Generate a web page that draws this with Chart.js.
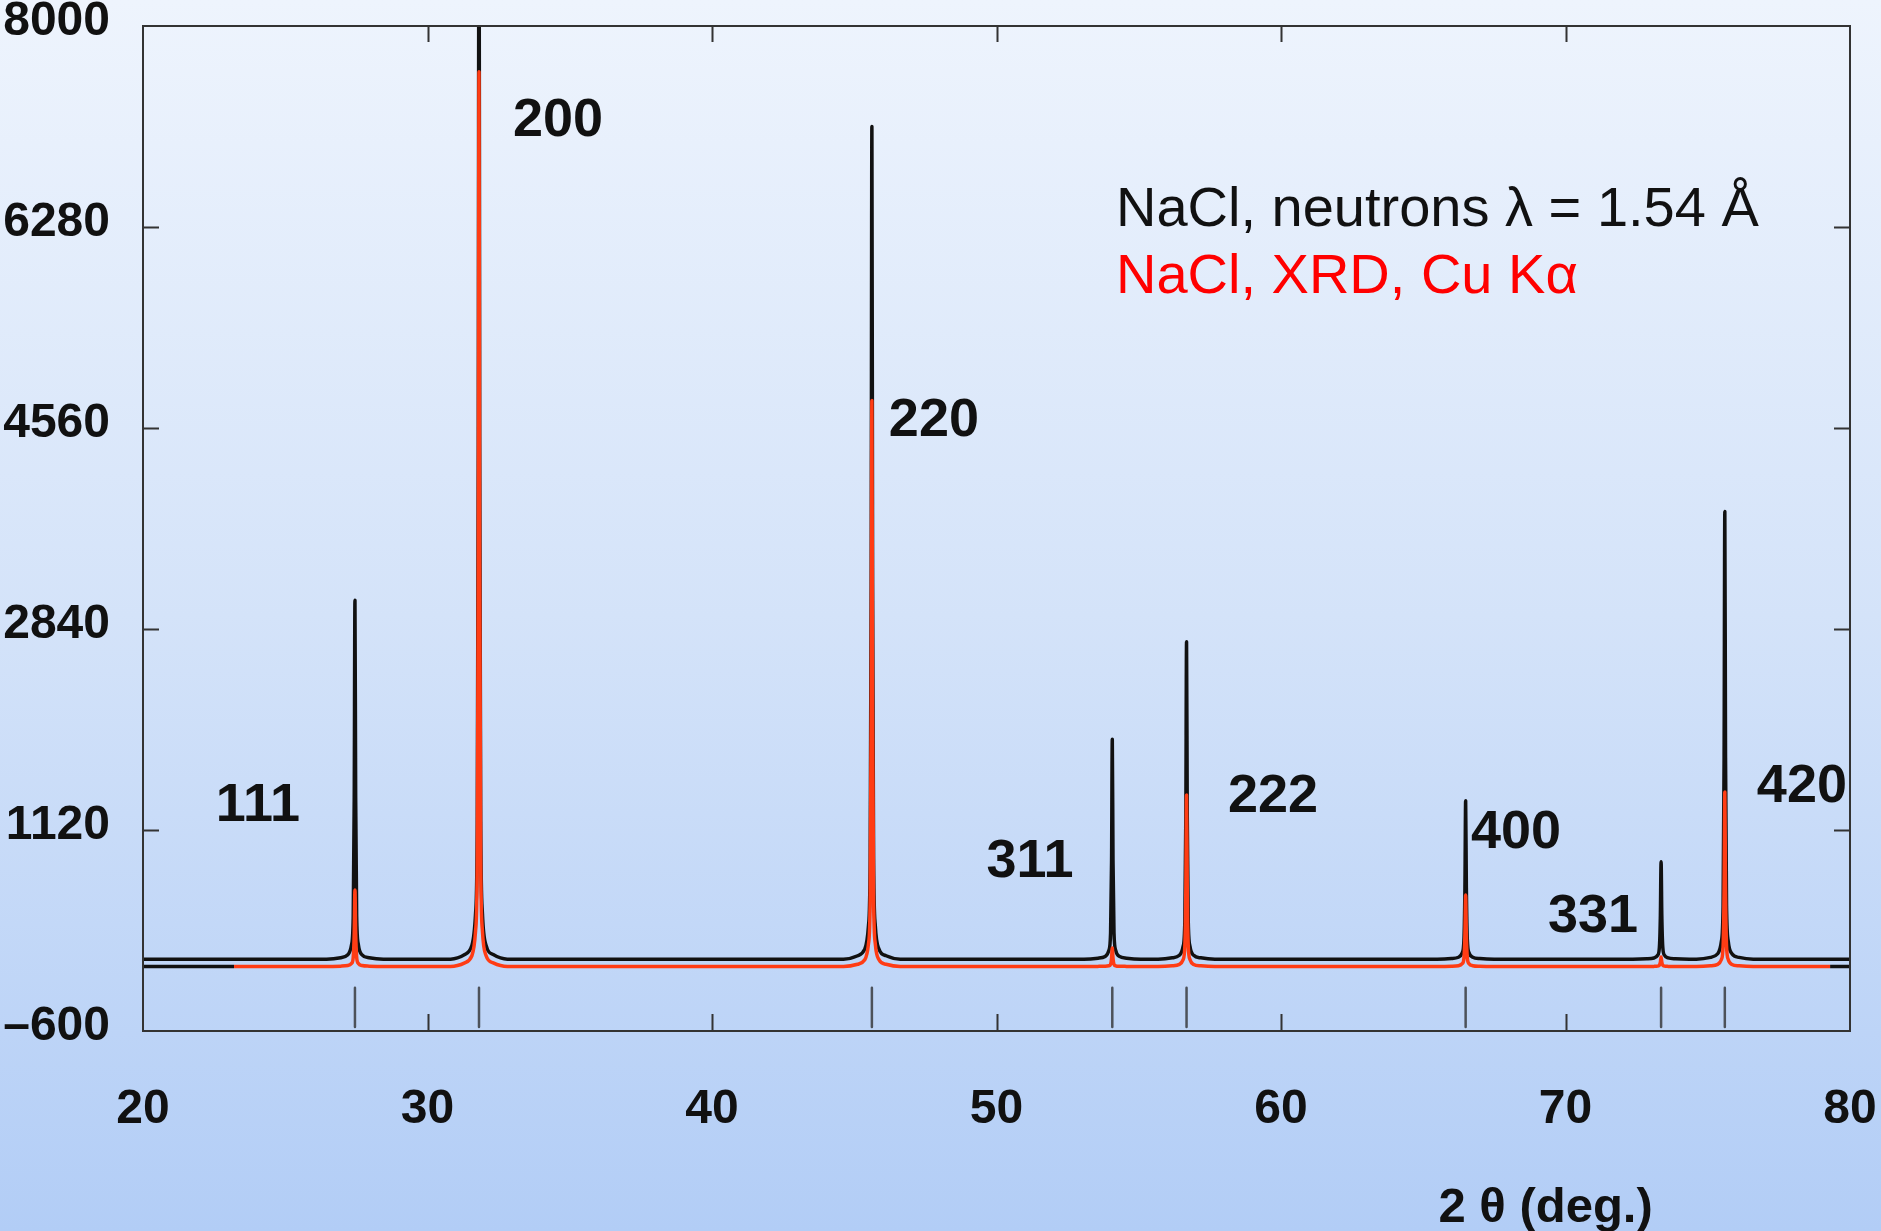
<!DOCTYPE html>
<html>
<head>
<meta charset="utf-8">
<title>NaCl diffraction</title>
<script src="https://cdn.jsdelivr.net/npm/chart.js@4.4.1/dist/chart.umd.min.js"></script>
<style>
  html, body { margin: 0; padding: 0; overflow: hidden; }
  body {
    width: 1881px;
    height: 1231px;
    background: linear-gradient(180deg, #eef4fd 0%, #d4e3f9 50%, #b2cdf6 100%);
  }
  canvas { display: block; }
</style>
</head>
<body>
<canvas id="chart" width="1881" height="1231"></canvas>
<script>

// Axis ticks
const xTickValues = [20, 30, 40, 50, 60, 70, 80];
const yTickValues = [-600, 1120, 2840, 4560, 6280, 8000];

// Reflections (hkl) and their 2-theta positions
const peakLabels = ["111", "200", "220", "311", "222", "400", "331", "420"];
const peakTheta = [27.45, 31.81, 45.62, 54.07, 56.68, 66.49, 73.36, 75.60];

// where the hkl labels sit (2-theta, intensity)
const labelTheta = [24.04, 34.59, 47.80, 51.18, 59.72, 68.26, 70.97, 78.31];
const labelCounts = [1360, 7221, 4654, 881, 1437, 1129, 410, 1523];

// 2-theta sampling through each peak
const profileTheta = [
  26.45, 26.95, 27.20, 27.33, 27.39, 27.425, 27.45, 27.475, 27.51, 27.57, 27.70, 27.95, 28.45,
  30.81, 31.31, 31.56, 31.69, 31.75, 31.785, 31.81, 31.835, 31.87, 31.93, 32.06, 32.31, 32.81,
  44.62, 45.12, 45.37, 45.50, 45.56, 45.595, 45.62, 45.645, 45.68, 45.74, 45.87, 46.12, 46.62,
  53.07, 53.57, 53.82, 53.95, 54.01, 54.045, 54.07, 54.095, 54.13, 54.19, 54.32, 54.57, 55.07,
  55.68, 56.18, 56.43, 56.56, 56.62, 56.655, 56.68, 56.705, 56.74, 56.80, 56.93, 57.18, 57.68,
  65.49, 65.99, 66.24, 66.37, 66.43, 66.465, 66.49, 66.515, 66.55, 66.61, 66.74, 66.99, 67.49,
  72.36, 72.86, 73.11, 73.24, 73.30, 73.335, 73.36, 73.385, 73.42, 73.48, 73.61, 73.86, 74.36,
  74.60, 75.10, 75.35, 75.48, 75.54, 75.575, 75.60, 75.625, 75.66, 75.72, 75.85, 76.10, 76.60
];

// Neutron pattern (black)
const neutronTheta = [20, ...profileTheta, 80];
const neutronCounts = [
  15,
  15, 27, 52, 138, 383, 1397, 3085, 1397, 383, 138, 52, 27, 15,
  15, 54, 132, 406, 1189, 4418, 9800, 4418, 1189, 406, 132, 54, 15,
  15, 44, 101, 300, 870, 3221, 7140, 3221, 870, 300, 101, 44, 15,
  15, 23, 38, 90, 241, 862, 1897, 862, 241, 90, 38, 23, 15,
  15, 26, 48, 124, 341, 1237, 2730, 1237, 341, 124, 48, 26, 15,
  15, 20, 31, 69, 178, 625, 1371, 625, 178, 69, 31, 20, 15,
  15, 18, 25, 48, 115, 390, 849, 390, 115, 48, 25, 18, 15,
  15, 30, 61, 168, 475, 1739, 3846, 1739, 475, 168, 61, 30, 15,
  15
];

// X-ray pattern (red)
const xrayTheta = [23.2, ...profileTheta, 79.3];
const xrayCounts = [
  -48,
  -48, -45, -40, -22, 31, 247, 607, 247, 31, -22, -40, -45, -48,
  -48, -17, 44, 258, 871, 3398, 7609, 3398, 871, 258, 44, -17, -48,
  -48, -29, 10, 146, 533, 2131, 4795, 2131, 533, 146, 10, -29, -48,
  -48, -47, -46, -42, -29, 24, 111, 24, -29, -42, -46, -47, -48,
  -48, -42, -30, 11, 128, 613, 1420, 613, 128, 11, -30, -42, -48,
  -48, -46, -41, -24, 25, 227, 564, 227, 25, -24, -41, -46, -48,
  -48, -48, -47, -45, -38, -11, 34, -11, -38, -45, -47, -48, -48,
  -48, -42, -30, 12, 131, 624, 1446, 624, 131, 12, -30, -42, -48,
  -48
];

// black stubs of the lower trace at both ends
const edgeTheta = [20, 23.2, 50, 79.3, 80];
const edgeCounts = [-48, -48, null, -48, -48];

// Bragg position markers
const markerTop = -230;
const markerBottom = -565;

// legend texts (left x in 2-theta, baseline in intensity)
const legendTexts = ["NaCl, neutrons \u03bb = 1.54 \u00c5", "NaCl, XRD, Cu K\u03b1"];
const legendColors = ["#111111", "#ff0000"];
const legendTheta = [54.2, 54.2];
const legendCounts = [6289, 5715];

const FONT = '"Liberation Sans", Arial, Helvetica, sans-serif';

function toPoints(xs, ys) {
  return xs.map((x, i) => ({ x: x, y: ys[i] }));
}

const markerPoints = [];
peakTheta.forEach((t) => {
  markerPoints.push({ x: t, y: markerTop });
  markerPoints.push({ x: t, y: markerBottom });
  markerPoints.push({ x: t, y: null });
});

// keep Chart.js from reserving extra room for half labels
function noPadding(scale) {
  scale.paddingTop = 0;
  scale.paddingBottom = 0;
  scale.paddingLeft = 0;
  scale.paddingRight = 0;
}


// Frame, inner ticks and text

const decorPlugin = {
  id: "decor",
  afterDatasetsDraw(chart) {
    const { ctx, chartArea: a, scales } = chart;
    const x = scales.x;
    const y = scales.y;

    ctx.save();
    ctx.strokeStyle = "#333333";
    ctx.lineWidth = 2;
    ctx.strokeRect(a.left, a.top, a.right - a.left, a.bottom - a.top);

    ctx.beginPath();
    xTickValues.forEach((v) => {
      if (v <= x.min || v >= x.max) return;
      const px = Math.round(x.getPixelForValue(v)) + 0.5;
      ctx.moveTo(px, a.bottom);
      ctx.lineTo(px, a.bottom - 17);
      ctx.moveTo(px, a.top);
      ctx.lineTo(px, a.top + 16);
    });
    yTickValues.forEach((v) => {
      if (v <= y.min || v >= y.max) return;
      const py = Math.round(y.getPixelForValue(v)) + 0.5;
      ctx.moveTo(a.left, py);
      ctx.lineTo(a.left + 16, py);
      ctx.moveTo(a.right, py);
      ctx.lineTo(a.right - 16, py);
    });
    ctx.stroke();

    // hkl labels
    ctx.fillStyle = "#111111";
    ctx.font = "bold 54px " + FONT;
    ctx.textAlign = "center";
    ctx.textBaseline = "alphabetic";
    peakLabels.forEach((lab, i) => {
      const px = x.getPixelForValue(labelTheta[i]);
      const py = y.getPixelForValue(labelCounts[i]);
      ctx.fillText(lab, px, py + 19);
    });

    // legend
    ctx.font = "56px " + FONT;
    ctx.textAlign = "left";
    legendTexts.forEach((txt, i) => {
      ctx.fillStyle = legendColors[i];
      ctx.fillText(txt, x.getPixelForValue(legendTheta[i]), y.getPixelForValue(legendCounts[i]));
    });

    // axis title
    ctx.fillStyle = "#111111";
    ctx.font = "bold 49px " + FONT;
    ctx.textAlign = "center";
    ctx.fillText("2 \u03b8 (deg.)", x.getPixelForValue(69.3), a.bottom + 191);
    ctx.restore();
  }
};


// Chart

const ctx = document.getElementById("chart").getContext("2d");

new Chart(ctx, {
  type: "line",
  data: {
    datasets: [
      {
        label: "XRD, Cu K\u03b1",
        data: toPoints(xrayTheta, xrayCounts),
        borderColor: "#ff3c14",
        borderWidth: 3.5,
        cubicInterpolationMode: "monotone",
        order: 0,
      },
      {
        label: "edges",
        data: toPoints(edgeTheta, edgeCounts),
        borderColor: "#111111",
        borderWidth: 3.5,
        order: 1,
      },
      {
        label: "neutrons",
        data: toPoints(neutronTheta, neutronCounts),
        borderColor: "#111111",
        borderWidth: 3.5,
        cubicInterpolationMode: "monotone",
        order: 2,
      },
      {
        label: "Bragg positions",
        data: markerPoints,
        borderColor: "#4d525a",
        borderWidth: 2.5,
        order: 3,
      },
    ],
  },
  options: {
    responsive: false,
    animation: false,
    spanGaps: false,
    layout: { padding: { top: 26, right: 31, left: 0, bottom: 0 } },
    elements: {
      point: { radius: 0 },
      line: { tension: 0, borderJoinStyle: "round", fill: false },
    },
    plugins: {
      legend: { display: false },
      tooltip: { enabled: false },
    },
    scales: {
      x: {
        type: "linear",
        min: 20,
        max: 80,
        afterBuildTicks: (scale) => {
          scale.ticks = xTickValues.map((v) => ({ value: v }));
        },
        afterFit: (scale) => {
          scale.height = 200;
          noPadding(scale);
        },
        grid: { display: false, drawTicks: false },
        border: { display: false },
        ticks: {
          color: "#111111",
          font: { family: FONT, size: 48, weight: "bold", lineHeight: 1.2 },
          padding: 50,
          maxRotation: 0,
          autoSkip: false,
          callback: (v) => String(v),
        },
      },
      y: {
        type: "linear",
        min: -600,
        max: 8000,
        afterBuildTicks: (scale) => {
          scale.ticks = yTickValues.map((v) => ({ value: v }));
        },
        afterFit: (scale) => {
          scale.width = 143;
          noPadding(scale);
        },
        grid: { display: false, drawTicks: false },
        border: { display: false },
        ticks: {
          color: "#111111",
          font: { family: FONT, size: 48, weight: "bold", lineHeight: 1 },
          padding: 33,
          labelOffset: -4,
          autoSkip: false,
          callback: (v) => (v < 0 ? "\u2013" + Math.abs(v) : String(v)),
        },
      },
    },
  },
  plugins: [decorPlugin],
});
</script>
</body>
</html>
